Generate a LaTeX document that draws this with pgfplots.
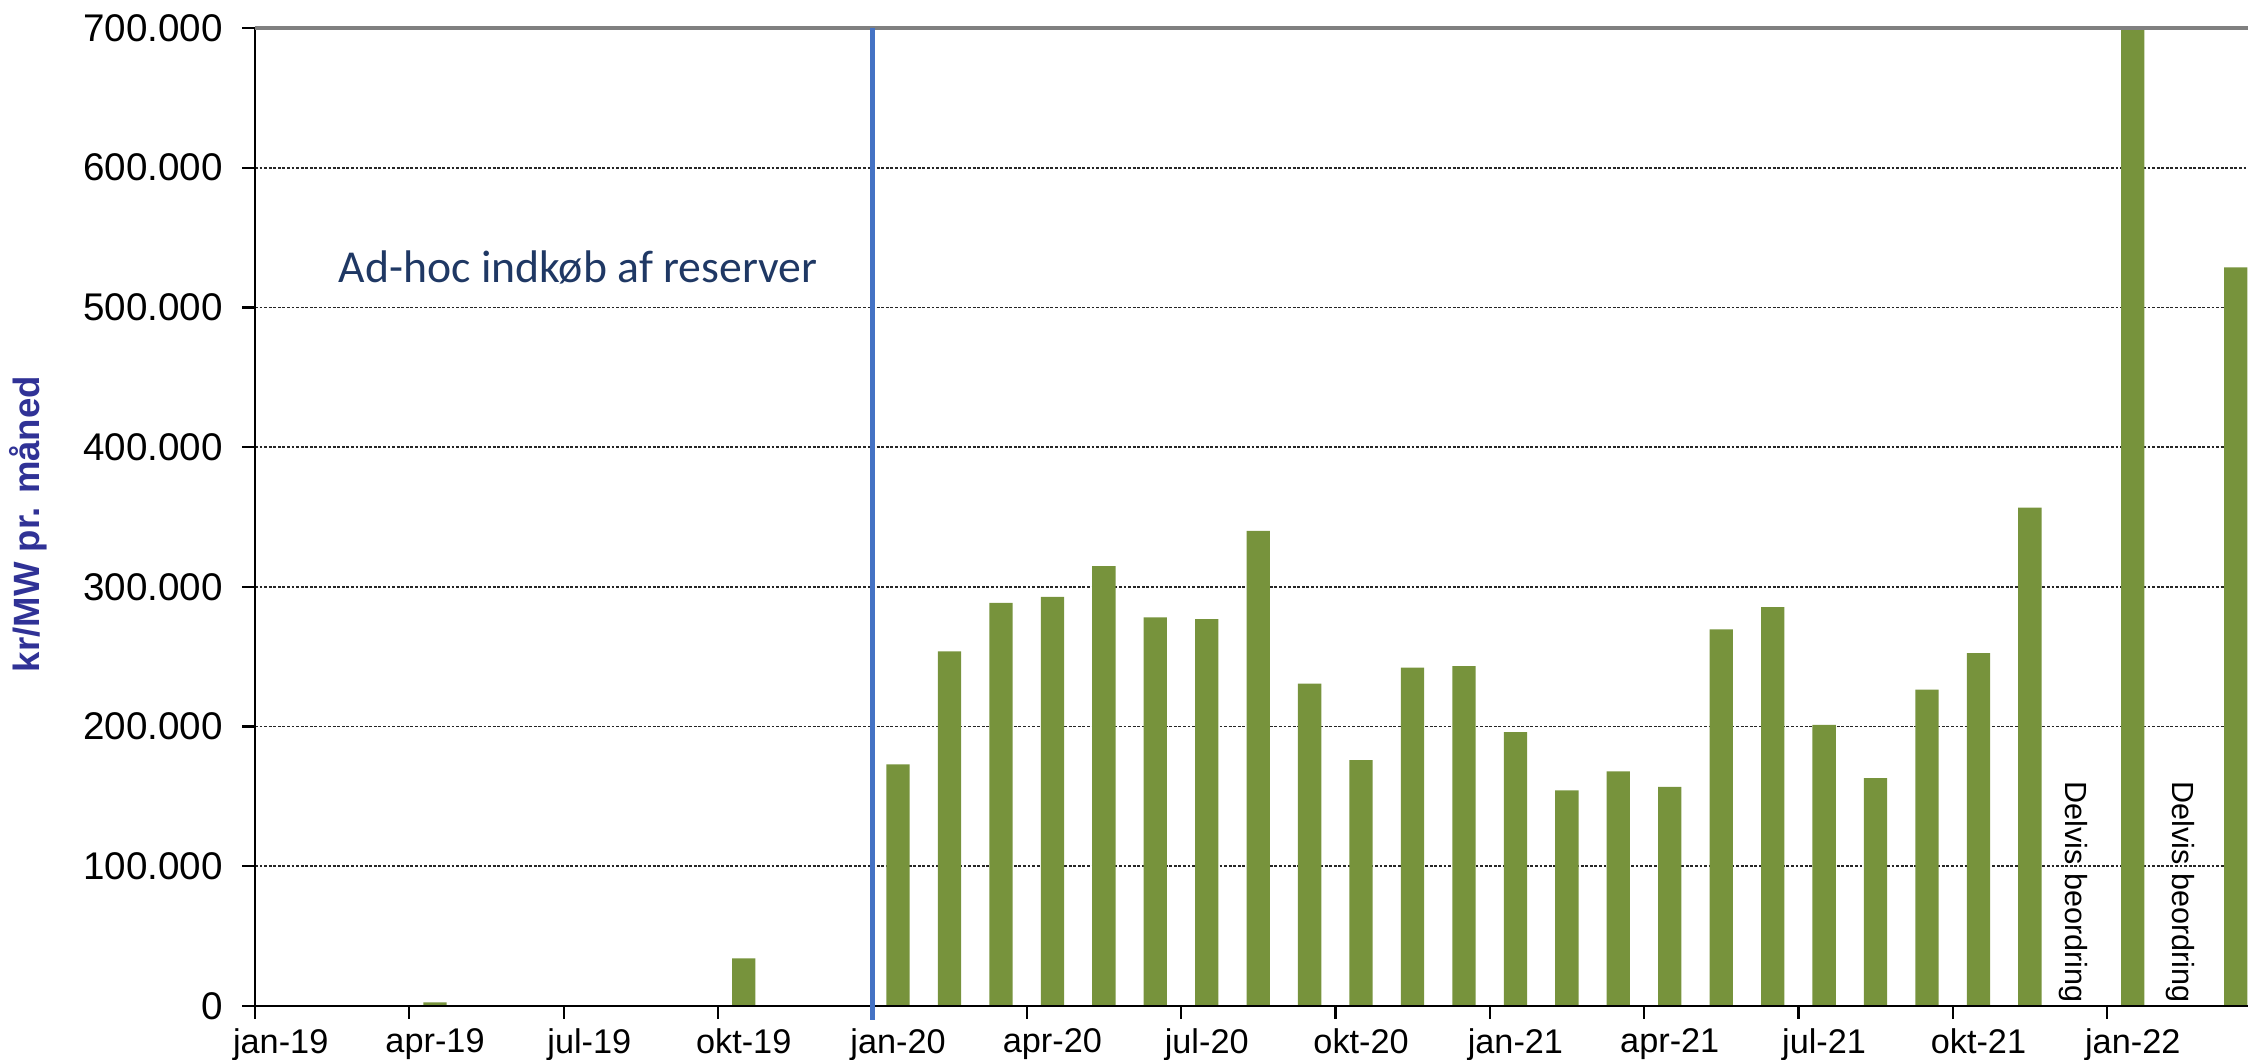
\documentclass[border=0pt]{standalone}
\usepackage{pgfplots}
\pgfplotsset{compat=1.18}
\usepackage{fontspec}
\setmainfont{Liberation Sans}
\newfontfamily\carlito{Carlito}
\definecolor{bargreen}{RGB}{119,147,60}
\definecolor{lineblue}{RGB}{68,114,196}
\definecolor{labelblue}{RGB}{48,50,150}
\definecolor{navy}{RGB}{31,56,100}
\begin{document}
\begin{tikzpicture}
\begin{axis}[
  name=ax,
  scale only axis,
  width=697.55pt, height=342.3pt,
  xmin=-0.5, xmax=38.24,
  ymin=0, ymax=700000,
  axis line style={draw=none},
  ybar, bar width=0.453,
  xtick={-0.5,2.5,...,35.5},
  xticklabels={jan-19,apr-19,jul-19,okt-19,jan-20,apr-20,jul-20,okt-20,jan-21,apr-21,jul-21,okt-21,jan-22},
  xticklabel style={font=\fontsize{12}{14}\selectfont, xshift=9pt},
  ytick={0,100000,...,700000},
  yticklabels={0,100.000,200.000,300.000,400.000,500.000,600.000,700.000},
  yticklabel style={font=\fontsize{13.5}{16}\selectfont, xshift=-3.2pt},
  scaled y ticks=false,
  tick align=outside,
  major tick length=4.5pt,
  tick style={black, line width=0.8pt},
  xtick pos=bottom, ytick pos=left,
  ymajorgrids,
  grid style={black!85, line width=0.6pt, dash pattern=on 1pt off 0.6pt},
  ylabel={kr/MW pr. måned},
  ylabel style={font=\bfseries\fontsize{12.8}{15}\selectfont, text=labelblue, at={(axis description cs:0,0.5)}, anchor=south, inner sep=0pt, yshift=72.4pt, xshift=-2.5pt},
  clip=false,
]
\addplot[fill=bargreen, draw=none] coordinates {
 (3,2500) (9,34000)
 (12,172900) (13,253800) (14,288600) (15,292900) (16,314800) (17,278100)
 (18,276900) (19,340000) (20,230700) (21,176000) (22,242100) (23,243300)
 (24,196000) (25,154300) (26,168000) (27,156800) (28,269500) (29,285500)
 (30,201200) (31,163100) (32,226400) (33,252600) (34,356700)
 (36,700000) (38,528600)
};
\draw[black, line width=1pt] (rel axis cs:0,0) -- (rel axis cs:0,1);
\draw[black, line width=0.9pt] (rel axis cs:0,0) -- (rel axis cs:1,0);
\draw[gray, line width=1.15pt] (rel axis cs:0,1) -- (rel axis cs:1,1);
\draw[lineblue, line width=1.6pt] (axis cs:11.5,700000) -- ([yshift=-5pt]axis cs:11.5,0);
\node[font=\carlito\fontsize{16}{19}\selectfont, text=navy, anchor=base west, inner sep=0pt] at (axis cs:1.12,518000) {Ad-hoc indkøb af reserver};
\node[font=\fontsize{10.7}{13}\selectfont, rotate=-90, anchor=east, inner sep=0pt] at (axis cs:34.85,2000) {Delvis beordring};
\node[font=\fontsize{10.7}{13}\selectfont, rotate=-90, anchor=east, inner sep=0pt] at (axis cs:36.93,2000) {Delvis beordring};
\end{axis}
\pgfresetboundingbox
\path[use as bounding box] ([xshift=-89.25pt,yshift=-18.9pt]ax.south west) rectangle ([yshift=9.8pt]ax.north east);
\end{tikzpicture}
\end{document}
